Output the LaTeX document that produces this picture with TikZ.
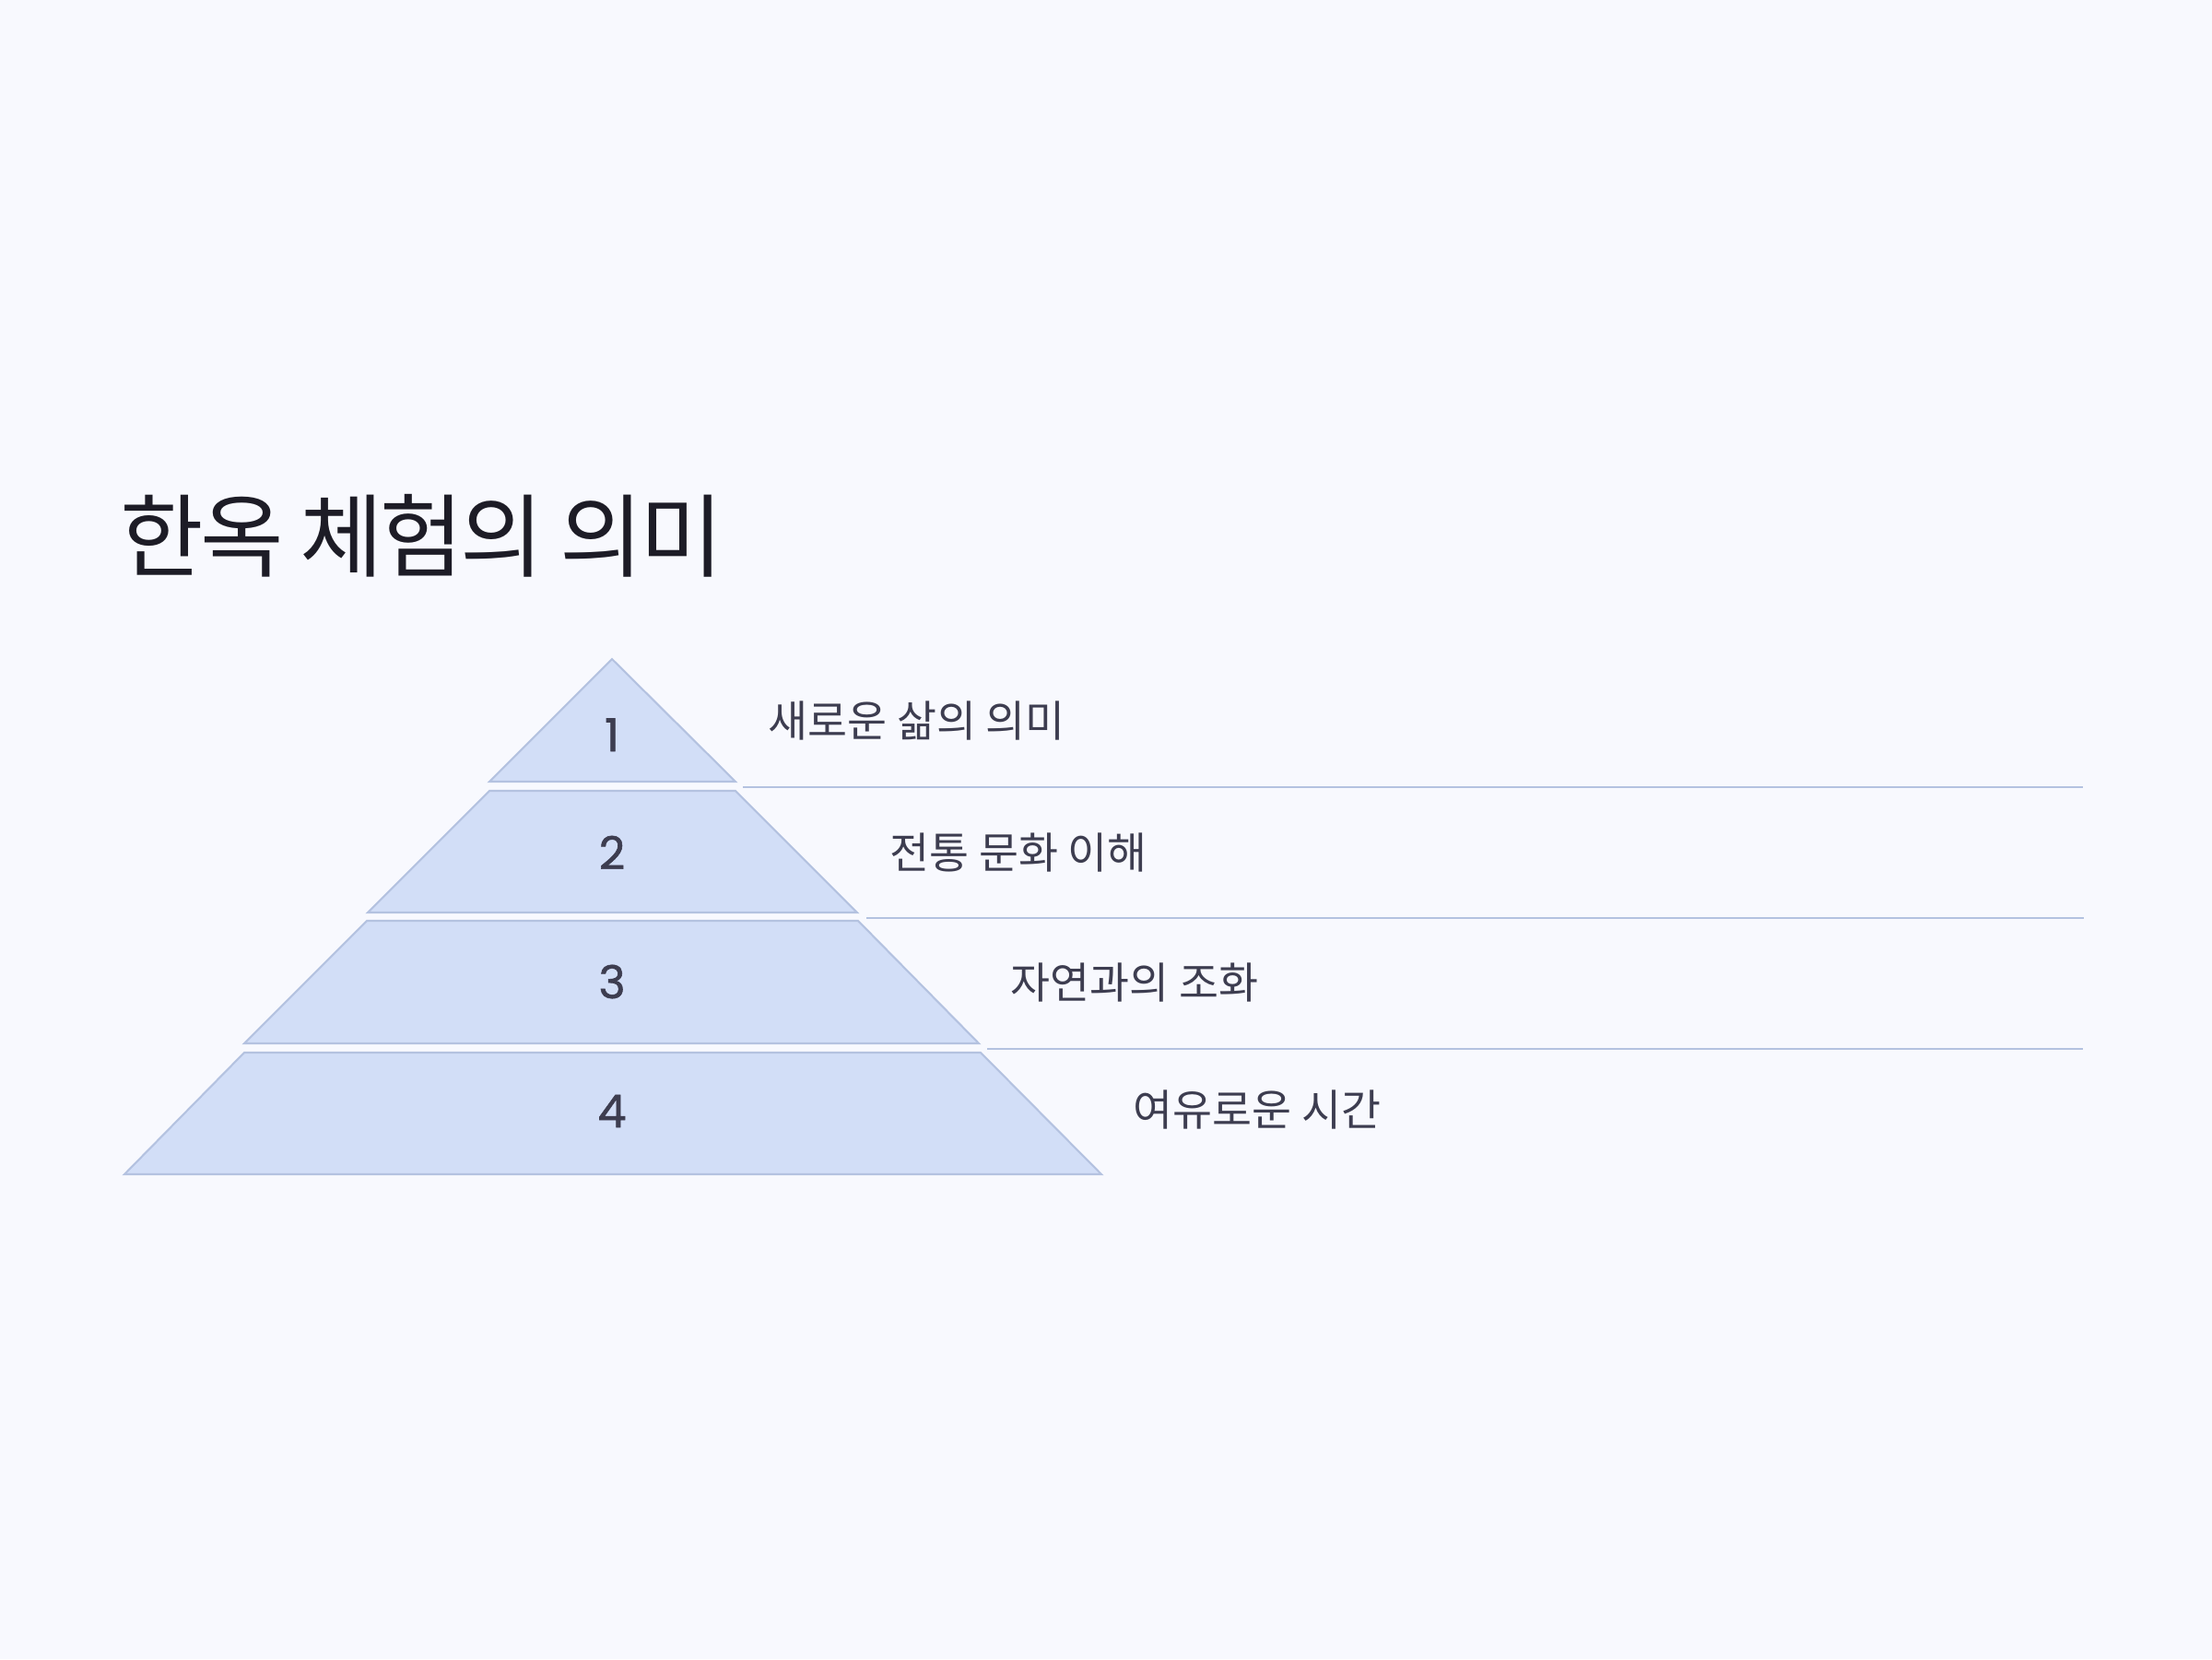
\documentclass[tikz,border=0pt]{standalone}
\usepackage{fontspec}
\setmainfont{Noto Sans CJK KR}
\newfontfamily\numfont{Poppins}[FakeBold=1.2]
\newfontfamily\titlefont{Noto Sans CJK KR}[LetterSpace=-4]
\definecolor{bgcol}{HTML}{F8F9FE}
\definecolor{tierfill}{HTML}{D2DEF7}
\definecolor{tierline}{HTML}{B4C2E0}
\definecolor{titlecol}{HTML}{1D1C26}
\definecolor{labelcol}{HTML}{3D3D50}
\begin{document}
\begin{tikzpicture}[x=1cm,y=1cm,
  tier/.style={fill=tierfill,draw=tierline,line width=0.6pt,line join=miter},
  num/.style={anchor=base,font=\numfont\fontsize{14}{16}\selectfont,text=labelcol,inner sep=0},
  lbl/.style={anchor=base west,font=\fontsize{13.3}{15}\selectfont,text=labelcol,inner sep=0},
  sepline/.style={draw=tierline,line width=0.6pt}]
\fill[bgcol] (0,0) rectangle (24,-18);
\useasboundingbox (0,0) rectangle (24,-18);

\node[anchor=base west,inner sep=0,font=\titlefont\fontsize{28}{32}\selectfont,text=titlecol] (title) at (1.30,-6.18) {한옥 체험의 의미};

% tiers
\draw[tier] (6.64,-7.15) -- (7.98,-8.48) -- (5.31,-8.48) -- cycle;
\draw[tier] (5.31,-8.58) -- (7.98,-8.58) -- (9.30,-9.90) -- (3.99,-9.90) -- cycle;
\draw[tier] (3.98,-9.99) -- (9.31,-9.99) -- (10.62,-11.32) -- (2.65,-11.32) -- cycle;
\draw[tier] (2.65,-11.42) -- (10.64,-11.42) -- (11.95,-12.74) -- (1.35,-12.74) -- cycle;

\node[num] (n1) at (6.64,-8.15) {1};
\node[num] (n2) at (6.64,-9.43) {2};
\node[num] (n3) at (6.64,-10.83) {3};
\node[num] (n4) at (6.64,-12.23) {4};

% separator lines
\coordinate (s1a) at (8.06,-8.54);  \coordinate (s1b) at (22.60,-8.54);
\coordinate (s2a) at (9.40,-9.96);  \coordinate (s2b) at (22.61,-9.96);
\coordinate (s3a) at (10.71,-11.38); \coordinate (s3b) at (22.60,-11.38);
\draw[sepline] (s1a) -- (s1b);
\draw[sepline] (s2a) -- (s2b);
\draw[sepline] (s3a) -- (s3b);

\node[lbl] (l1) at (8.33,-7.99) {새로운 삶의 의미};
\node[lbl] (l2) at (9.65,-9.42) {전통 문화 이해};
\node[lbl] (l3) at (10.96,-10.83) {자연과의 조화};
\node[lbl] (l4) at (12.29,-12.21) {여유로운 시간};
\end{tikzpicture}
\end{document}
